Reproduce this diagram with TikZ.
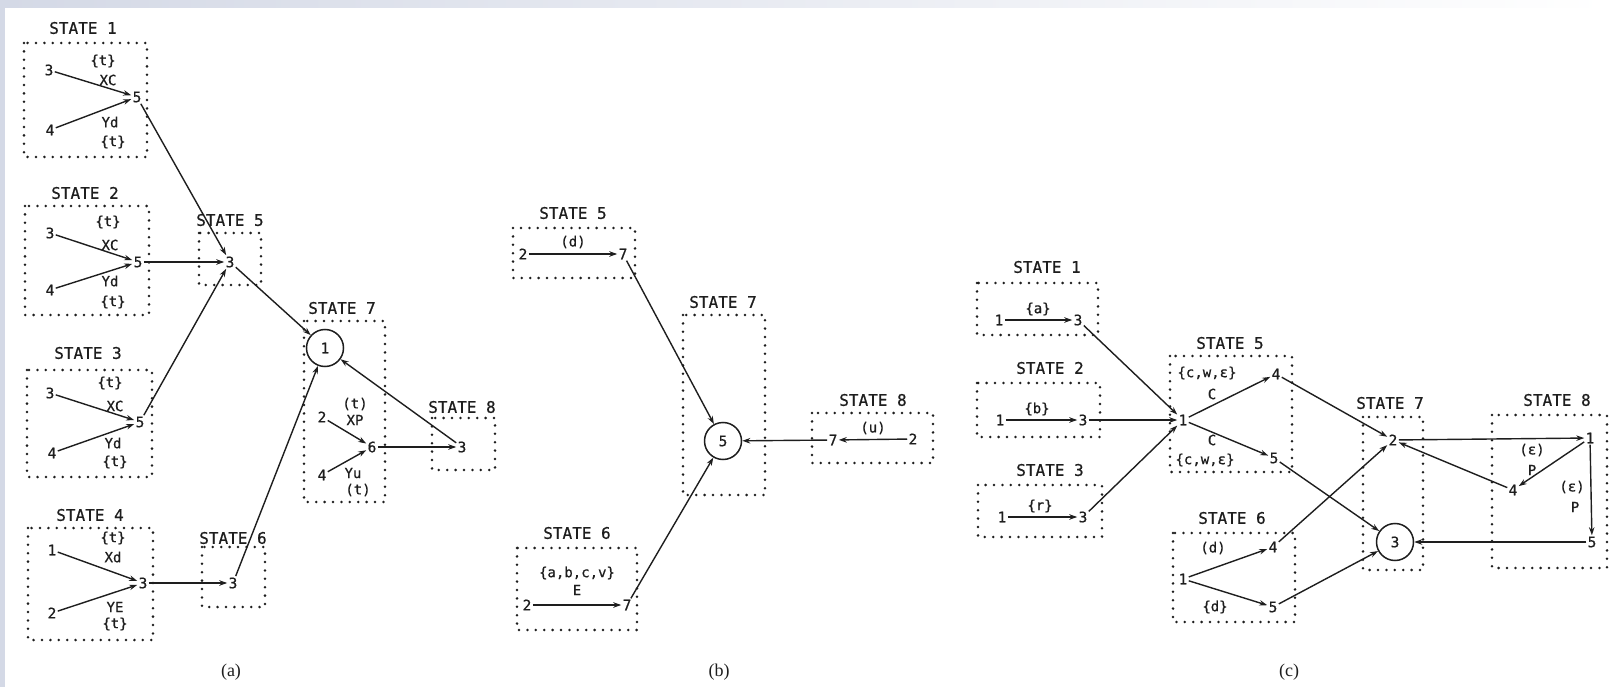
\documentclass[tikz,border=0pt]{standalone}
\usepackage{fontspec}
\usetikzlibrary{arrows.meta}
\newfontfamily\monof[FakeBold=0.7]{DejaVu Sans Mono}
\newfontfamily\serf{Liberation Serif}
\definecolor{band}{RGB}{212,217,230}
\definecolor{ink}{RGB}{30,30,30}
\tikzset{
 num/.style={font=\monof\fontsize{14.5}{15}\selectfont, inner sep=1.2pt, text=ink},
 tag/.style={font=\monof\fontsize{14}{14}\selectfont, inner sep=0pt, text=ink},
 ttl/.style={font=\monof\fontsize{16}{16}\selectfont, inner sep=0pt, text=ink},
 sbox/.style={draw=ink, line width=2.8pt, line cap=round, dash pattern=on 0pt off 8.4pt},
 arr/.style={draw=ink, line width=1.4pt, -{Stealth[length=8pt,width=5.5pt]}},
 circ/.style={circle, draw=ink, line width=1.5pt, minimum size=37pt, inner sep=0pt, font=\monof\fontsize{14.5}{15}\selectfont, text=ink},
 capt/.style={font=\serf\fontsize{18}{18}\selectfont, inner sep=0pt, text=ink}
}
\begin{document}
\begin{tikzpicture}[x=1pt,y=-1pt]
\useasboundingbox (0,0) rectangle (1610,687);
% background
\fill[band] (0,0) rectangle (5,687);
\shade[left color=band, right color=white] (0,0) rectangle (1610,8);
\fill[white] (5,8) rectangle (1610,687);

% ================= (a) =================
% STATE 1
\node[ttl] (ta1) at (83,28) {STATE 1};
\draw[sbox] (24,43) rectangle (147,157);
\node[num] (a1_3) at (49,70) {3};
\node[num] (a1_4) at (50,130) {4};
\node[num] (a1_5) at (137,97) {5};
\node[tag] (a1_t1) at (103,61) {\{t\}};
\node[tag] (a1_x) at (108,80) {XC};
\node[tag] (a1_y) at (110,122) {Yd};
\node[tag] (a1_t2) at (113,142) {\{t\}};
\draw[arr] (a1_3) -- (a1_5);
\draw[arr] (a1_4) -- (a1_5);
% STATE 2
\node[ttl] (ta2) at (85,193) {STATE 2};
\draw[sbox] (25,206) rectangle (149,315);
\node[num] (a2_3) at (50,233) {3};
\node[num] (a2_4) at (50,290) {4};
\node[num] (a2_5) at (138,262) {5};
\node[tag] (a2_t1) at (108,222) {\{t\}};
\node[tag] (a2_x) at (110,245) {XC};
\node[tag] (a2_y) at (110,281) {Yd};
\node[tag] (a2_t2) at (113,302) {\{t\}};
\draw[arr] (a2_3) -- (a2_5);
\draw[arr] (a2_4) -- (a2_5);
% STATE 3
\node[ttl] (ta3) at (88,353) {STATE 3};
\draw[sbox] (27,370) rectangle (152,477);
\node[num] (a3_3) at (50,393) {3};
\node[num] (a3_4) at (52,453) {4};
\node[num] (a3_5) at (140,422) {5};
\node[tag] (a3_t1) at (110,383) {\{t\}};
\node[tag] (a3_x) at (115,406) {XC};
\node[tag] (a3_y) at (113,443) {Yd};
\node[tag] (a3_t2) at (115,462) {\{t\}};
\draw[arr] (a3_3) -- (a3_5);
\draw[arr] (a3_4) -- (a3_5);
% STATE 4
\node[ttl] (ta4) at (90,515) {STATE 4};
\draw[sbox] (28,528) rectangle (153,640);
\node[num] (a4_1) at (52,550) {1};
\node[num] (a4_2) at (52,613) {2};
\node[num] (a4_3) at (143,583) {3};
\node[tag] (a4_t1) at (113,538) {\{t\}};
\node[tag] (a4_x) at (113,557) {Xd};
\node[tag] (a4_y) at (115,607) {YE};
\node[tag] (a4_t2) at (115,624) {\{t\}};
\draw[arr] (a4_1) -- (a4_3);
\draw[arr] (a4_2) -- (a4_3);
% STATE 5
\node[ttl] (ta5) at (230,220) {STATE 5};
\draw[sbox] (199,233) rectangle (261,285);
\node[num] (a5_3) at (230,262) {3};
% STATE 6
\node[ttl] (ta6) at (233,538) {STATE 6};
\draw[sbox] (202,547) rectangle (265,607);
\node[num] (a6_3) at (233,583) {3};
% STATE 7
\node[ttl] (ta7) at (342,308) {STATE 7};
\draw[sbox] (304,321) rectangle (385,502);
\node[circ] (a7_1) at (325,348) {1};
\node[num] (a7_2) at (322,417) {2};
\node[num] (a7_4) at (322,475) {4};
\node[num] (a7_6) at (372,447) {6};
\node[tag] (a7_t1) at (355,404) {(t)};
\node[tag] (a7_x) at (355,420) {XP};
\node[tag] (a7_y) at (353,473) {Yu};
\node[tag] (a7_t2) at (358,490) {(t)};
\draw[arr] (a7_2) -- (a7_6);
\draw[arr] (a7_4) -- (a7_6);
% STATE 8
\node[ttl] (ta8) at (462,407) {STATE 8};
\draw[sbox] (432,418) rectangle (495,470);
\node[num] (a8_3) at (462,447) {3};
% connectors
\draw[arr] (a1_5) -- (a5_3);
\draw[arr] (a2_5) -- (a5_3);
\draw[arr] (a3_5) -- (a5_3);
\draw[arr] (a5_3) -- (a7_1);
\draw[arr] (a4_3) -- (a6_3);
\draw[arr] (a6_3) -- (a7_1);
\draw[arr] (a7_6) -- (a8_3);
\draw[arr] (a8_3) -- (a7_1);
\node[capt] (capa) at (231,672) {(a)};

% ================= (b) =================
\node[ttl] (tb5) at (573,213) {STATE 5};
\draw[sbox] (513,228) rectangle (635,278);
\node[num] (b5_2) at (523,254) {2};
\node[num] (b5_7) at (623,254) {7};
\node[tag] (b5_d) at (573,242) {(d)};
\draw[arr] (b5_2) -- (b5_7);

\node[ttl] (tb7) at (723,302) {STATE 7};
\draw[sbox] (683,315) rectangle (765,495);
\node[circ] (b7_5) at (723,441) {5};

\node[ttl] (tb8) at (873,400) {STATE 8};
\draw[sbox] (812,413) rectangle (933,463);
\node[num] (b8_7) at (833,440) {7};
\node[num] (b8_2) at (913,439) {2};
\node[tag] (b8_u) at (873,428) {(u)};
\draw[arr] (b8_2) -- (b8_7);

\node[ttl] (tb6) at (577,533) {STATE 6};
\draw[sbox] (517,548) rectangle (637,630);
\node[tag] (b6_l) at (577,573) {\{a,b,c,v\}};
\node[tag] (b6_e) at (577,590) {E};
\node[num] (b6_2) at (527,605) {2};
\node[num] (b6_7) at (627,605) {7};
\draw[arr] (b6_2) -- (b6_7);

\draw[arr] (b5_7) -- (b7_5);
\draw[arr] (b6_7) -- (b7_5);
\draw[arr] (b8_7) -- (b7_5);
\node[capt] (capb) at (719,672) {(b)};

% ================= (c) =================
\node[ttl] (tc1) at (1047,267) {STATE 1};
\draw[sbox] (977,283) rectangle (1098,335);
\node[num] (c1_1) at (999,320) {1};
\node[num] (c1_3) at (1078,320) {3};
\node[tag] (c1_a) at (1038,309) {\{a\}};
\draw[arr] (c1_1) -- (c1_3);

\node[ttl] (tc2) at (1050,368) {STATE 2};
\draw[sbox] (977,383) rectangle (1100,437);
\node[num] (c2_1) at (1000,420) {1};
\node[num] (c2_3) at (1083,420) {3};
\node[tag] (c2_b) at (1037,409) {\{b\}};
\draw[arr] (c2_1) -- (c2_3);

\node[ttl] (tc3) at (1050,470) {STATE 3};
\draw[sbox] (978,485) rectangle (1102,537);
\node[num] (c3_1) at (1002,517) {1};
\node[num] (c3_3) at (1083,517) {3};
\node[tag] (c3_r) at (1040,506) {\{r\}};
\draw[arr] (c3_1) -- (c3_3);

\node[ttl] (tc5) at (1230,343) {STATE 5};
\draw[sbox] (1170,356) rectangle (1292,472);
\node[num] (c5_1) at (1183,420) {1};
\node[num] (c5_4) at (1276,374) {4};
\node[num] (c5_5) at (1274,458) {5};
\node[tag] (c5_s1) at (1207,373) {\{c,w,ε\}};
\node[tag] (c5_c1) at (1212,394) {C};
\node[tag] (c5_c2) at (1212,440) {C};
\node[tag] (c5_s2) at (1205,460) {\{c,w,ε\}};
\draw[arr] (c5_1) -- (c5_4);
\draw[arr] (c5_1) -- (c5_5);

\node[ttl] (tc6) at (1232,518) {STATE 6};
\draw[sbox] (1173,533) rectangle (1295,622);
\node[num] (c6_1) at (1183,579) {1};
\node[num] (c6_4) at (1273,547) {4};
\node[num] (c6_5) at (1273,607) {5};
\node[tag] (c6_d1) at (1213,548) {(d)};
\node[tag] (c6_d2) at (1215,607) {\{d\}};
\draw[arr] (c6_1) -- (c6_4);
\draw[arr] (c6_1) -- (c6_5);

\node[ttl] (tc7) at (1390,403) {STATE 7};
\draw[sbox] (1363,417) rectangle (1423,570);
\node[num] (c7_2) at (1393,440) {2};
\node[circ] (c7_3) at (1395,542) {3};

\node[ttl] (tc8) at (1557,400) {STATE 8};
\draw[sbox] (1492,415) rectangle (1607,568);
\node[num] (c8_1) at (1590,438) {1};
\node[num] (c8_4) at (1513,490) {4};
\node[num] (c8_5) at (1592,542) {5};
\node[tag] (c8_e1) at (1532,450) {(ε)};
\node[tag] (c8_p1) at (1532,470) {P};
\node[tag] (c8_e2) at (1572,487) {(ε)};
\node[tag] (c8_p2) at (1575,507) {P};

\draw[arr] (c1_3) -- (c5_1);
\draw[arr] (c2_3) -- (c5_1);
\draw[arr] (c3_3) -- (c5_1);
\draw[arr] (c5_4) -- (c7_2);
\draw[arr] (c5_5) -- (c7_3);
\draw[arr] (c6_4) -- (c7_2);
\draw[arr] (c6_5) -- (c7_3);
\draw[arr] (c7_2) -- (c8_1);
\draw[arr] (c8_1) -- (c8_4);
\draw[arr] (c8_4) -- (c7_2);
\draw[arr] (c8_1) -- (c8_5);
\draw[arr] (c8_5) -- (c7_3);
\node[capt] (capc) at (1289,672) {(c)};
\end{tikzpicture}
\end{document}
